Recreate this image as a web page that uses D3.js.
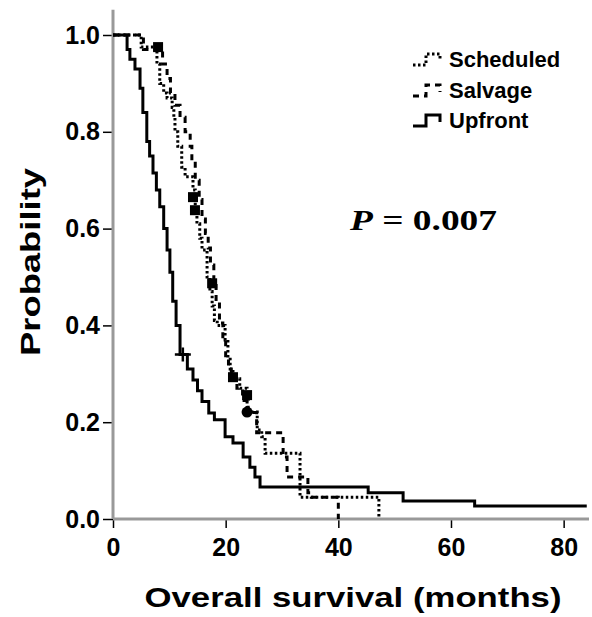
<!DOCTYPE html>
<html>
<head>
<meta charset="utf-8">
<script src="https://cdn.jsdelivr.net/npm/d3@7"></script>
<style>
  body { margin: 0; background: #fff; }
  svg { display: block; }
</style>
</head>
<body>
<div id="chart"></div>
<script>
// survival curves (months, probability)
const upfrontTime = [0, 2.5, 3.0, 3.9, 4.8, 5.3, 6.0, 6.5, 7.1, 7.7, 8.3, 9.0, 9.6, 10.1, 10.6, 11.2, 11.9, 13.2, 14.2, 15.0, 15.8, 17.0, 18.0, 19.9, 21.3, 23.1, 24.3, 25.2, 26.1, 45.3, 51.5, 64.2, 84.1];
const upfrontSurv = [1, 0.97, 0.95, 0.93, 0.89, 0.84, 0.78, 0.75, 0.715, 0.68, 0.645, 0.60, 0.556, 0.51, 0.45, 0.40, 0.34, 0.31, 0.287, 0.265, 0.243, 0.219, 0.205, 0.17, 0.157, 0.128, 0.107, 0.087, 0.066, 0.054, 0.037, 0.027, 0.027];

const salvageTime = [0, 5.4, 8.8, 9.6, 10.2, 11.0, 11.9, 12.8, 13.7, 14.0, 14.6, 15.3, 15.8, 16.4, 16.9, 17.3, 17.9, 18.3, 18.9, 19.5, 20.0, 20.5, 21.0, 22.0, 23.0, 24.0, 25.5, 30.2, 30.9, 34.6, 35.2, 40.0];
const salvageSurv = [1, 0.97, 0.94, 0.91, 0.88, 0.855, 0.83, 0.80, 0.77, 0.735, 0.70, 0.66, 0.62, 0.59, 0.56, 0.525, 0.49, 0.45, 0.405, 0.37, 0.33, 0.31, 0.29, 0.27, 0.245, 0.22, 0.178, 0.128, 0.087, 0.054, 0.045, 0];

const scheduledTime = [0, 5.0, 7.8, 8.3, 9.0, 9.6, 10.5, 10.8, 11.0, 11.5, 12.2, 12.8, 14.2, 14.6, 14.9, 15.4, 15.8, 16.7, 17.2, 17.6, 18.0, 18.5, 19.9, 20.4, 20.8, 21.3, 22.5, 23.8, 25.6, 26.4, 27.0, 33.2, 47.2];
const scheduledSurv = [1, 0.975, 0.94, 0.90, 0.88, 0.87, 0.85, 0.83, 0.80, 0.77, 0.727, 0.707, 0.68, 0.64, 0.61, 0.58, 0.556, 0.50, 0.47, 0.44, 0.41, 0.40, 0.37, 0.33, 0.31, 0.29, 0.27, 0.221, 0.184, 0.17, 0.136, 0.045, 0];

// censor marks
const squareTime = [8.0, 14.2, 14.55, 17.6, 21.3, 23.8];
const squareSurv = [0.975, 0.665, 0.638, 0.487, 0.293, 0.256];
const circleTime = [23.8];
const circleSurv = [0.221];
const crossTime = [12.4];
const crossSurv = [0.34];

const xTicks = [0, 20, 40, 60, 80];
const yTicks = [0, 0.2, 0.4, 0.6, 0.8, 1.0];
const seriesNames = ["Scheduled", "Salvage", "Upfront"];

const W = 592, H = 617;
const svg = d3.select("#chart").append("svg").attr("width", W).attr("height", H);

const x = d3.scaleLinear().domain([0, 84.5]).range([113, 589]);
const y = d3.scaleLinear().domain([0, 1]).range([519, 35]);

const font = "'Liberation Sans', Arial, sans-serif";

// axes
const yAx = svg.append("g").attr("transform", `translate(${x(0)},0)`)
  .call(d3.axisLeft(y).tickValues(yTicks).tickFormat(d3.format(".1f")).tickSize(10).tickPadding(3));
const xAx = svg.append("g").attr("transform", `translate(0,${y(0)})`)
  .call(d3.axisBottom(x).tickValues(xTicks).tickSize(9).tickPadding(10));
[yAx, xAx].forEach(g => {
  g.select(".domain").remove();
  g.selectAll("line").attr("stroke", "#000").attr("stroke-width", 1.5);
  g.selectAll("text").attr("fill", "#000").style("font", `bold 25px ${font}`);
});
svg.append("line").attr("x1", x(0)).attr("x2", x(0)).attr("y1", y(0)).attr("y2", y(1.052))
  .attr("stroke", "#999").attr("stroke-width", 3);
svg.append("line").attr("x1", x(0)).attr("x2", x(84.5)).attr("y1", y(0)).attr("y2", y(0))
  .attr("stroke", "#999").attr("stroke-width", 3);

// curves
const line = d3.line().x(d => x(d[0])).y(d => y(d[1])).curve(d3.curveStepAfter);
const styles = {
  Scheduled: { t: scheduledTime, s: scheduledSurv, dash: "2.5,2.5" },
  Salvage:   { t: salvageTime, s: salvageSurv, dash: "6,5" },
  Upfront:   { t: upfrontTime, s: upfrontSurv, dash: null }
};
["Upfront", "Salvage", "Scheduled"].forEach(k => {
  const st = styles[k];
  svg.append("path").datum(d3.zip(st.t, st.s)).attr("d", line)
    .attr("fill", "none").attr("stroke", "#000").attr("stroke-width", 3)
    .attr("stroke-dasharray", st.dash);
});

svg.selectAll("rect.cens").data(d3.zip(squareTime, squareSurv)).join("rect").attr("class", "cens")
  .attr("x", d => x(d[0]) - 5).attr("y", d => y(d[1]) - 5).attr("width", 10).attr("height", 10).attr("fill", "#000");
svg.selectAll("circle.cens").data(d3.zip(circleTime, circleSurv)).join("circle").attr("class", "cens")
  .attr("cx", d => x(d[0])).attr("cy", d => y(d[1])).attr("r", 5.5).attr("fill", "#000");
svg.selectAll("path.cross").data(d3.zip(crossTime, crossSurv)).join("path").attr("class", "cross")
  .attr("d", d => `M${x(d[0]) - 8},${y(d[1])}H${x(d[0]) + 8}M${x(d[0])},${y(d[1]) - 7}V${y(d[1]) + 7}`)
  .attr("stroke", "#000").attr("stroke-width", 2.5);

// legend
const legY = [67, 98, 128];
seriesNames.forEach((k, i) => {
  const b = legY[i];
  svg.append("path").attr("d", `M413,${b - 2}H426V${b - 13}H440V${b - 6}`)
    .attr("fill", "none").attr("stroke", "#000").attr("stroke-width", 3)
    .attr("stroke-dasharray", styles[k].dash);
  svg.append("text").attr("x", 449).attr("y", b).text(k)
    .style("font", `bold 22px ${font}`).attr("fill", "#000");
});

// p value
const pv = svg.append("text").attr("x", 350).attr("y", 230)
  .style("font", "bold 30px 'Liberation Serif', 'Times New Roman', serif").attr("fill", "#000")
  .attr("textLength", 147).attr("lengthAdjust", "spacingAndGlyphs");
pv.append("tspan").attr("font-style", "italic").text("P");
pv.append("tspan").text(" = 0.007");

// axis titles
svg.append("text").attr("transform", "translate(40,262) rotate(-90)").attr("text-anchor", "middle")
  .style("font", `bold 27px ${font}`).attr("textLength", 188).attr("lengthAdjust", "spacingAndGlyphs")
  .text("Probability");
svg.append("text").attr("x", 353).attr("y", 607).attr("text-anchor", "middle")
  .style("font", `bold 27px ${font}`).attr("textLength", 417).attr("lengthAdjust", "spacingAndGlyphs")
  .text("Overall survival (months)");
</script>
</body>
</html>
